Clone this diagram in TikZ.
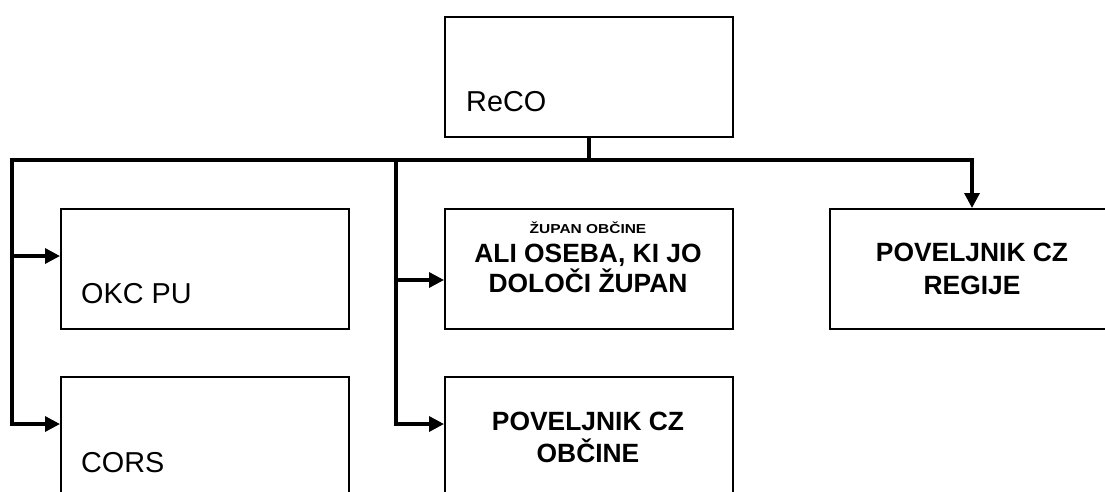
\documentclass[tikz,border=0pt]{standalone}
\usepackage{fontspec}
\setmainfont{Liberation Sans}
\newfontfamily\stretchsans[FakeStretch=1.19]{Liberation Sans}
\usetikzlibrary{arrows.meta}
\begin{document}
\begin{tikzpicture}[x=1pt,y=-1pt,
  box/.style={draw=black,line width=1.8pt,rectangle,inner sep=0pt,anchor=north west,minimum width=288pt},
  bus/.style={line width=3.4pt,line cap=rect},
  arr/.style={line width=3.4pt,line cap=rect,-{Triangle[length=15pt,width=15pt]}},
  plain/.style={anchor=base west,inner sep=0pt,font=\fontsize{28.8}{34}\selectfont},
  boldtxt/.style={anchor=base,inner sep=0pt,font=\fontsize{26.4}{31}\selectfont\bfseries},
  smalltxt/.style={anchor=base,inner sep=0pt,font=\stretchsans\fontsize{13}{15}\selectfont\bfseries}]
\useasboundingbox (0,0) rectangle (1105,491);
\clip (0,0) rectangle (1105,491);
% boxes
\node[box,minimum height=120pt] (reco) at (444,16) {};
\node[box,minimum height=120pt] (okc) at (60,208) {};
\node[box,minimum height=160pt] (cors) at (60,376) {};
\node[box,minimum height=120pt] (zupan) at (444,208) {};
\node[box,minimum height=160pt] (obcine) at (444,376) {};
\node[box,minimum height=120pt] (regije) at (829,208) {};
% texts
\node[plain] (treco) at (466,111) {ReCO};
\node[plain] (tokc) at (81,303) {OKC PU};
\node[plain] (tcors) at (81,472) {CORS};
\node[smalltxt] (tz1) at (588,233) {ŽUPAN OBČINE};
\node[boldtxt] (tz2) at (588,262) {ALI OSEBA, KI JO};
\node[boldtxt] (tz3) at (588,292) {DOLOČI ŽUPAN};
\node[boldtxt] (to1) at (588,430) {POVELJNIK CZ};
\node[boldtxt] (to2) at (588,462) {OBČINE};
\node[boldtxt] (tr1) at (972,261) {POVELJNIK CZ};
\node[boldtxt] (tr2) at (972,294) {REGIJE};
% connector coordinates
\coordinate (busL) at (12,160);
\coordinate (busM) at (396,160);
\coordinate (busR) at (972,160);
\coordinate (l1) at (12,256);
\coordinate (l2) at (12,424);
\coordinate (m1) at (396,280);
\coordinate (m2) at (396,424);
% connectors
\draw[bus] (reco.south) -- (reco.south |- busL);
\draw[arr] (busL) -- (busR) -- (busR |- regije.north);
\draw[arr] (busL) -- (l2) -- (l2 -| cors.west);
\draw[arr] (l1) -- (l1 -| okc.west);
\draw[arr] (busM) -- (m2) -- (m2 -| obcine.west);
\draw[arr] (m1) -- (m1 -| zupan.west);
\end{tikzpicture}
\end{document}
